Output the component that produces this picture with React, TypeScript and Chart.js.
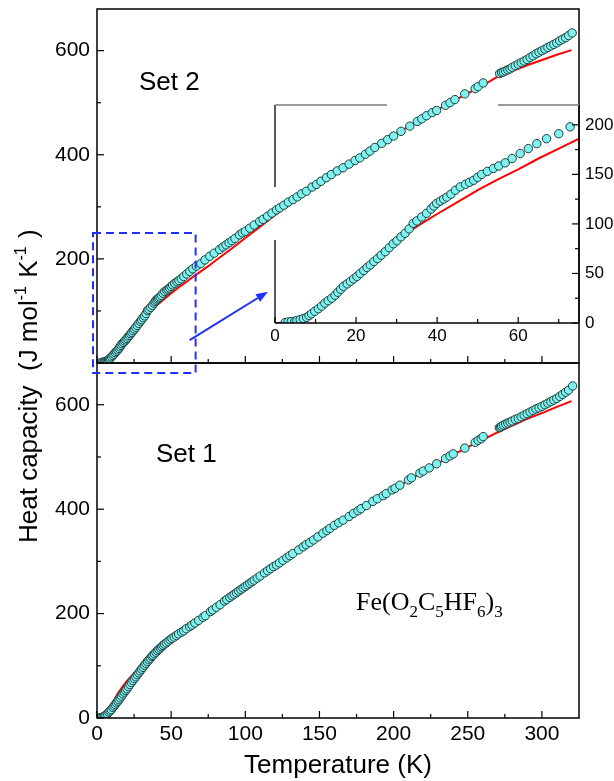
import React, { useEffect, useRef } from "react";
import { Chart, registerables } from "chart.js";

Chart.register(...registerables);

// ---------- data (T in K, Cp in J mol-1 K-1) ----------
const set2Data: [number, number][] = [
  [2.5, 0.5], [3.2, 1], [4.0, 1.5], [4.9, 1.8], [5.4, 2.5], [6.2, 3.5], [7.0, 4.5], [7.8, 5.7],
  [8.4, 7.5], [9.0, 9.3], [9.8, 11.8], [10.7, 14.4], [11.5, 17], [12.3, 20], [13.1, 22.5],
  [14.0, 25], [14.8, 28], [15.5, 31], [16.2, 34], [16.9, 37], [17.8, 39.5], [18.6, 42],
  [19.4, 44.5], [20.2, 47], [21.0, 50], [21.9, 53], [22.7, 56], [23.5, 58.6], [24.4, 62],
  [25.3, 65], [26.2, 68.5], [27.2, 72], [28.2, 76], [29.2, 80], [30.1, 83], [31.1, 87],
  [32.1, 90.5], [33.1, 95], [34.1, 100.6], [35.0, 103], [36.2, 107], [37.4, 110.7], [38.5, 115],
  [39.2, 118], [39.9, 120.7], [40.8, 123], [41.6, 125], [42.4, 127], [43.4, 130], [44.5, 134],
  [45.7, 137.4], [47.0, 140], [48.0, 142], [49.0, 144], [50.0, 147], [51.0, 150], [52.4, 153],
  [53.9, 156], [55.2, 158.5], [56.8, 161.6], [58.5, 166], [60.5, 171], [62.5, 176], [64.6, 181],
  [67, 186], [70, 191], [72.8, 198], [76, 205], [79, 211], [82.7, 218], [85, 223], [87, 227],
  [89, 231], [91, 235], [93, 239], [96, 246], [98, 250], [100, 253], [103, 259], [106, 265],
  [109.7, 272], [112, 276], [115, 282], [118, 288], [121, 294], [123.2, 298], [126, 303],
  [129, 309], [132.2, 314], [135, 319], [138, 325], [141.2, 330], [145, 338], [148, 343],
  [151, 349], [154.7, 356], [158, 362], [162, 369], [165.9, 375], [170, 382], [174, 389],
  [177.2, 394], [181, 401], [184, 407], [187.3, 414], [192, 422], [196, 429], [200, 436],
  [205, 445], [210.9, 455], [216, 464], [219, 469], [222.2, 475], [226, 481], [229, 485],
  [235, 495], [238, 500], [241.3, 506], [248, 517], [255, 527], [257, 531], [260.4, 538],
  [271.5, 556], [272.8, 558], [274, 559], [275.5, 561], [277, 563], [278.5, 565], [280, 568],
  [282, 571], [284, 574], [286, 577], [288, 580], [290, 583], [292, 587], [294, 590], [296, 594],
  [298, 597], [300, 600], [302, 603], [304, 606], [306, 609], [308, 612], [310, 615], [312, 619],
  [314, 622], [316, 625], [318, 629], [320.4, 634],
];

const set2Fit: [number, number][] = [
  [0, 0], [4, 0], [6, 2], [8, 6], [10, 12], [14, 25], [18, 40], [22, 54], [26, 68], [30, 82],
  [33, 92], [36, 100], [40, 110], [45, 122], [50, 134], [55, 145], [60, 155], [65, 166],
  [70, 176], [75, 186], [80, 197], [90, 218], [100, 240], [110, 262], [120, 284], [130, 305],
  [140, 326], [150, 346], [160, 365], [170, 383], [180, 401], [190, 419], [200, 437], [210, 454],
  [220, 471], [230, 487], [240, 503], [250, 518], [260, 533], [270, 550], [280, 561], [290, 572],
  [300, 582], [310, 592], [320, 601],
];

const set1Data: [number, number][] = [
  [2, 0.5], [3, 1], [4, 2], [5, 3.5], [6, 5.5], [7, 8], [8, 11], [8.8, 13.5], [9.6, 16],
  [10.7, 20], [11.5, 23], [12.3, 26], [13.1, 29], [14, 32], [14.8, 35], [15.6, 38.5], [16.5, 42],
  [17.5, 46], [18.4, 49.5], [19.3, 53], [20.2, 56], [21.2, 60], [22.2, 64], [23.2, 68],
  [24.2, 71.7], [25.2, 75.5], [26.2, 79], [27.2, 83], [28.2, 86.5], [29.1, 90], [30, 93.5],
  [31, 97], [32, 101], [33, 104.5], [34, 108], [35, 111.5], [36, 114.5], [37, 118], [37.7, 120],
  [38.7, 123], [39.7, 126], [40.7, 129], [41.7, 131.5], [42.7, 134], [43.6, 136.5], [44.5, 139],
  [45.5, 141.5], [46.7, 144], [48, 147], [49.3, 150], [50.5, 152.5], [52, 155], [53.5, 158],
  [55, 161], [57, 164.5], [58.5, 167], [60.2, 171], [62.5, 175], [64, 178], [66, 182],
  [68.5, 187], [71.5, 193], [73, 196], [76.5, 204], [78, 207], [80.5, 212], [83, 217], [86, 224],
  [87.5, 227], [89.5, 231], [91, 234], [92.5, 237], [94, 240], [95.5, 243], [97, 246],
  [98.5, 249], [100, 252], [101.5, 255], [103, 258], [104.5, 261], [106, 264], [108, 268],
  [110, 272], [113, 278], [115, 282], [117, 286], [119, 290], [121, 293], [123, 297],
  [125.4, 302], [128, 307], [130, 311], [132, 315], [136, 322], [139, 328], [141, 332],
  [143.5, 336], [146, 341], [149, 347], [152.4, 354], [155, 359], [157, 363], [160, 369],
  [163, 374], [166, 379], [170, 386], [173, 392], [176, 397], [178, 401], [181.7, 407],
  [186, 415], [189, 420], [193, 426], [195, 430], [199, 437], [201, 440], [204.2, 446],
  [210, 456], [212, 460], [217.7, 469], [220, 473], [224, 479], [229, 487], [235, 497],
  [238, 502], [240.2, 506], [248, 517], [255, 528], [257, 532], [259, 535], [260.4, 539],
  [271.3, 556], [272, 557], [272.8, 559], [274, 561], [275.5, 563], [277, 565], [278.5, 567],
  [280, 569], [282, 572], [284, 574], [286, 577], [288, 580], [290, 583], [292, 586], [294, 589],
  [296, 592], [298, 594], [300, 597], [302, 600], [304, 603], [306, 606], [308, 609], [310, 612],
  [312, 616], [314, 620], [316, 624], [318, 628], [320.7, 636],
];

const set1Fit: [number, number][] = [
  [0, 0], [6, 0], [7.5, 5], [9, 16], [10.5, 27], [12, 37], [14, 47], [16, 55], [18, 63],
  [20, 70], [22, 77], [25, 86], [28, 94], [31, 100], [34, 107], [37, 116], [40, 126], [45, 140],
  [50, 151], [55, 161], [60, 170], [70, 191], [80, 211], [90, 232], [100, 252], [110, 272],
  [120, 291], [130, 311], [140, 330], [150, 349], [160, 368], [170, 386], [180, 404], [190, 421],
  [200, 438], [210, 455], [220, 472], [230, 488], [240, 504], [250, 519], [260, 533], [270, 547],
  [280, 560], [290, 573], [300, 584], [310, 596], [320, 607],
];

// ---------- ticks ----------
const outerXTicks = [0, 50, 100, 150, 200, 250, 300];
const outerXMinor = [25, 75, 125, 175, 225, 275];
const topYTicks = [200, 400, 600];
const bottomYTicks = [0, 200, 400, 600];
const outerYMinor = [100, 300, 500];
const insetXTicks = [0, 20, 40, 60];
const insetXMinor = [10, 30, 50, 70];
const insetYTicks = [0, 50, 100, 150, 200];
const insetYMinor = [25, 75, 125, 175];

const INSET_TMAX = 75;

// ---------- styles ----------
const SANS = "'Liberation Sans', Arial, sans-serif";
const SERIF = "'Liberation Serif', 'Times New Roman', serif";
const PT_FILL = "#7ff3f0";
const PT_EDGE = "#1e3c3c";
const RED = "#ff0000";
const BLUE = "#1f2fff";

const W = 614;
const H = 781;

const toXY = (arr: [number, number][]) => arr.map(([x, y]) => ({ x, y }));

const fixW = (w: number) => (s: any) => {
  s.width = w;
  s.paddingTop = 0;
  s.paddingBottom = 0;
};
const fixH = (h: number) => (s: any) => {
  s.height = h;
  s.paddingLeft = 0;
  s.paddingRight = 0;
};
const setTicks = (vals: number[]) => (s: any) => {
  s.ticks = vals.map((v) => ({ value: v }));
};
const noGrid = { display: false, drawTicks: false, tickLength: 0 };

function pointsDataset(data: [number, number][]) {
  return {
    label: "data",
    data: toXY(data),
    showLine: false,
    pointRadius: 4.2,
    pointBorderWidth: 1,
    pointBackgroundColor: PT_FILL,
    pointBorderColor: PT_EDGE,
    order: 0,
  };
}
function fitDataset(data: [number, number][]) {
  return {
    label: "fit",
    data: toXY(data),
    showLine: true,
    borderColor: RED,
    borderWidth: 2,
    pointRadius: 0,
    tension: 0,
    order: 1,
  };
}

function line(ctx: CanvasRenderingContext2D, x1: number, y1: number, x2: number, y2: number) {
  ctx.beginPath();
  ctx.moveTo(x1, y1);
  ctx.lineTo(x2, y2);
  ctx.stroke();
}

function drawOuterFrameAndTicks(chart: any, yMajor: number[]) {
  const { ctx, chartArea: a, scales } = chart;
  ctx.save();
  ctx.strokeStyle = "#000";
  ctx.lineWidth = 1.5;
  ctx.strokeRect(a.left, a.top, a.right - a.left, a.bottom - a.top);
  ctx.lineWidth = 1.2;
  for (const v of yMajor) {
    const p = scales.y.getPixelForValue(v);
    line(ctx, a.left, p, a.left + 7, p);
  }
  for (const v of outerYMinor) {
    const p = scales.y.getPixelForValue(v);
    line(ctx, a.left, p, a.left + 4, p);
  }
  for (const v of outerXTicks) {
    const p = scales.x.getPixelForValue(v);
    line(ctx, p, a.bottom, p, a.bottom - 7);
  }
  for (const v of outerXMinor) {
    const p = scales.x.getPixelForValue(v);
    line(ctx, p, a.bottom, p, a.bottom - 4);
  }
  ctx.restore();
}

const topPlugin = {
  id: "topDecor",
  afterDatasetsDraw(chart: any) {
    drawOuterFrameAndTicks(chart, [0, ...topYTicks]);
    const { ctx, scales } = chart;
    const X = (v: number) => scales.x.getPixelForValue(v);
    const Y = (v: number) => scales.y.getPixelForValue(v);
    ctx.save();
    ctx.fillStyle = "#000";
    ctx.font = `26px ${SANS}`;
    ctx.textBaseline = "alphabetic";
    ctx.fillText("Set 2", 139, 90);

    // blue dashed zoom box
    ctx.strokeStyle = BLUE;
    ctx.lineWidth = 2;
    ctx.setLineDash([8, 5]);
    const x1 = X(-2.7), x2 = X(66.5), y1 = Y(249.7), y2 = Y(-19.2);
    ctx.strokeRect(x1, y1, x2 - x1, y2 - y1);
    ctx.setLineDash([]);

    // blue arrow
    const ax1 = X(62.5), ay1 = Y(44), ax2 = X(115.3), ay2 = Y(137);
    const ang = Math.atan2(ay2 - ay1, ax2 - ax1);
    const hl = 12, hw = 4.5;
    const bx = ax2 - hl * Math.cos(ang), by = ay2 - hl * Math.sin(ang);
    ctx.lineWidth = 2;
    line(ctx, ax1, ay1, bx, by);
    ctx.fillStyle = BLUE;
    ctx.beginPath();
    ctx.moveTo(ax2, ay2);
    ctx.lineTo(bx + hw * Math.sin(ang), by - hw * Math.cos(ang));
    ctx.lineTo(bx - hw * Math.sin(ang), by + hw * Math.cos(ang));
    ctx.closePath();
    ctx.fill();
    ctx.restore();
  },
};

const bottomPlugin = {
  id: "bottomDecor",
  afterDatasetsDraw(chart: any) {
    drawOuterFrameAndTicks(chart, bottomYTicks);
    const { ctx } = chart;
    ctx.save();
    ctx.fillStyle = "#000";
    ctx.textBaseline = "alphabetic";
    ctx.font = `26px ${SANS}`;
    ctx.fillText("Set 1", 156, 462);

    // formula Fe(O2C5HF6)3
    const parts: [string, boolean][] = [
      ["Fe(O", false], ["2", true], ["C", false], ["5", true], ["HF", false], ["6", true],
      [")", false], ["3", true],
    ];
    let x = 356;
    const base = 610;
    for (const [t, sub] of parts) {
      ctx.font = sub ? `17px ${SERIF}` : `26px ${SERIF}`;
      ctx.fillText(t, x, sub ? base + 7 : base);
      x += ctx.measureText(t).width;
    }

    // y axis title (rotated)
    ctx.translate(37, 543);
    ctx.rotate(-Math.PI / 2);
    const yparts: [string, boolean][] = [
      ["Heat capacity  (J mol", false], ["-1", true], [" K", false], ["-1", true], [" )", false],
    ];
    let tx = 0;
    for (const [t, sup] of yparts) {
      ctx.font = sup ? `16px ${SANS}` : `26px ${SANS}`;
      ctx.fillText(t, tx, sup ? -11 : 0);
      tx += ctx.measureText(t).width + (sup ? 1 : 0);
    }
    ctx.restore();
  },
};

const insetPlugin = {
  id: "insetDecor",
  afterDatasetsDraw(chart: any) {
    const { ctx, chartArea: a, scales } = chart;
    const X = (v: number) => scales.x.getPixelForValue(v);
    const Y = (v: number) => scales.y.getPixelForValue(v);
    ctx.save();
    ctx.strokeStyle = "#000";
    ctx.lineWidth = 1.3;
    // bottom axis
    line(ctx, a.left, a.bottom, a.right, a.bottom);
    // right axis
    line(ctx, a.right, a.top, a.right, a.bottom);
    // left axis with gap where outer data crosses
    line(ctx, a.left, a.bottom, a.left, Y(83.8));
    line(ctx, a.left, Y(137.2), a.left, a.top);
    // top edge (grey) with gap
    ctx.strokeStyle = "#7a7a7a";
    line(ctx, a.left, a.top, X(27.6), a.top);
    line(ctx, X(55), a.top, a.right, a.top);
    ctx.strokeStyle = "#000";
    ctx.lineWidth = 1.2;
    for (const v of insetXTicks) line(ctx, X(v), a.bottom, X(v), a.bottom - 6);
    for (const v of insetXMinor) line(ctx, X(v), a.bottom, X(v), a.bottom - 4);
    for (const v of insetYTicks) line(ctx, a.right, Y(v), a.right - 7, Y(v));
    for (const v of insetYMinor) line(ctx, a.right, Y(v), a.right - 4, Y(v));
    ctx.restore();
  },
};

function makeConfig(opts: {
  datasets: any[];
  padding: any;
  scales: any;
  plugin: any;
}) {
  return {
    type: "scatter" as const,
    data: { datasets: opts.datasets },
    options: {
      responsive: false,
      animation: false,
      devicePixelRatio: 1,
      events: [],
      layout: { padding: opts.padding, autoPadding: false },
      plugins: { legend: { display: false }, tooltip: { enabled: false } },
      scales: opts.scales,
    },
    plugins: [opts.plugin],
  };
}

const tickFont = { family: SANS, size: 21 };
const insetFont = { family: SANS, size: 17 };

export default function App() {
  const topRef = useRef<HTMLCanvasElement>(null);
  const botRef = useRef<HTMLCanvasElement>(null);
  const insRef = useRef<HTMLCanvasElement>(null);

  useEffect(() => {
    const charts: Chart[] = [];

    charts.push(
      new Chart(
        botRef.current!,
        makeConfig({
          datasets: [pointsDataset(set1Data), fitDataset(set1Fit)],
          padding: { left: 0, top: 363, right: 35, bottom: 0 },
          plugin: bottomPlugin,
          scales: {
            x: {
              type: "linear",
              min: 0,
              max: 325,
              grid: noGrid,
              border: { display: false },
              ticks: { font: tickFont, color: "#000", padding: 4, maxRotation: 0 },
              afterBuildTicks: setTicks(outerXTicks),
              afterFit: fixH(63),
              title: {
                display: true,
                text: "Temperature (K)",
                color: "#000",
                font: { family: SANS, size: 26, lineHeight: 1.2 },
                padding: { top: 0, bottom: 0 },
              },
            },
            y: {
              type: "linear",
              min: 0,
              max: 680,
              grid: noGrid,
              border: { display: false },
              ticks: { font: tickFont, color: "#000", padding: 7 },
              afterBuildTicks: setTicks(bottomYTicks),
              afterFit: fixW(97),
            },
          },
        }) as any
      )
    );

    charts.push(
      new Chart(
        topRef.current!,
        makeConfig({
          datasets: [pointsDataset(set2Data), fitDataset(set2Fit)],
          padding: { left: 0, top: 9, right: 35, bottom: 418 },
          plugin: topPlugin,
          scales: {
            x: { type: "linear", min: 0, max: 325, display: false },
            y: {
              type: "linear",
              min: 0,
              max: 680,
              grid: noGrid,
              border: { display: false },
              ticks: { font: tickFont, color: "#000", padding: 7 },
              afterBuildTicks: setTicks(topYTicks),
              afterFit: fixW(97),
            },
          },
        }) as any
      )
    );

    charts.push(
      new Chart(
        insRef.current!,
        makeConfig({
          datasets: [
            pointsDataset(set2Data.filter(([t]) => t <= INSET_TMAX - 1)),
            fitDataset(set2Fit.filter(([t]) => t <= INSET_TMAX)),
          ],
          padding: { left: 275, top: 105, right: 0, bottom: 0 },
          plugin: insetPlugin,
          scales: {
            x: {
              type: "linear",
              min: 0,
              max: INSET_TMAX,
              grid: noGrid,
              border: { display: false },
              ticks: { font: insetFont, color: "#000", padding: 3, maxRotation: 0 },
              afterBuildTicks: setTicks(insetXTicks),
              afterFit: fixH(458),
            },
            y: {
              type: "linear",
              position: "right",
              min: 0,
              max: 220,
              grid: noGrid,
              border: { display: false },
              ticks: { font: insetFont, color: "#000", padding: 6 },
              afterBuildTicks: setTicks(insetYTicks),
              afterFit: fixW(35),
            },
          },
        }) as any
      )
    );

    return () => charts.forEach((c) => c.destroy());
  }, []);

  const cs: React.CSSProperties = { position: "absolute", left: 0, top: 0 };
  return (
    <div style={{ position: "absolute", left: 0, top: 0, width: W, height: H, background: "#fff" }}>
      <canvas ref={botRef} width={W} height={H} style={cs} />
      <canvas ref={topRef} width={W} height={H} style={cs} />
      <canvas ref={insRef} width={W} height={H} style={cs} />
    </div>
  );
}
